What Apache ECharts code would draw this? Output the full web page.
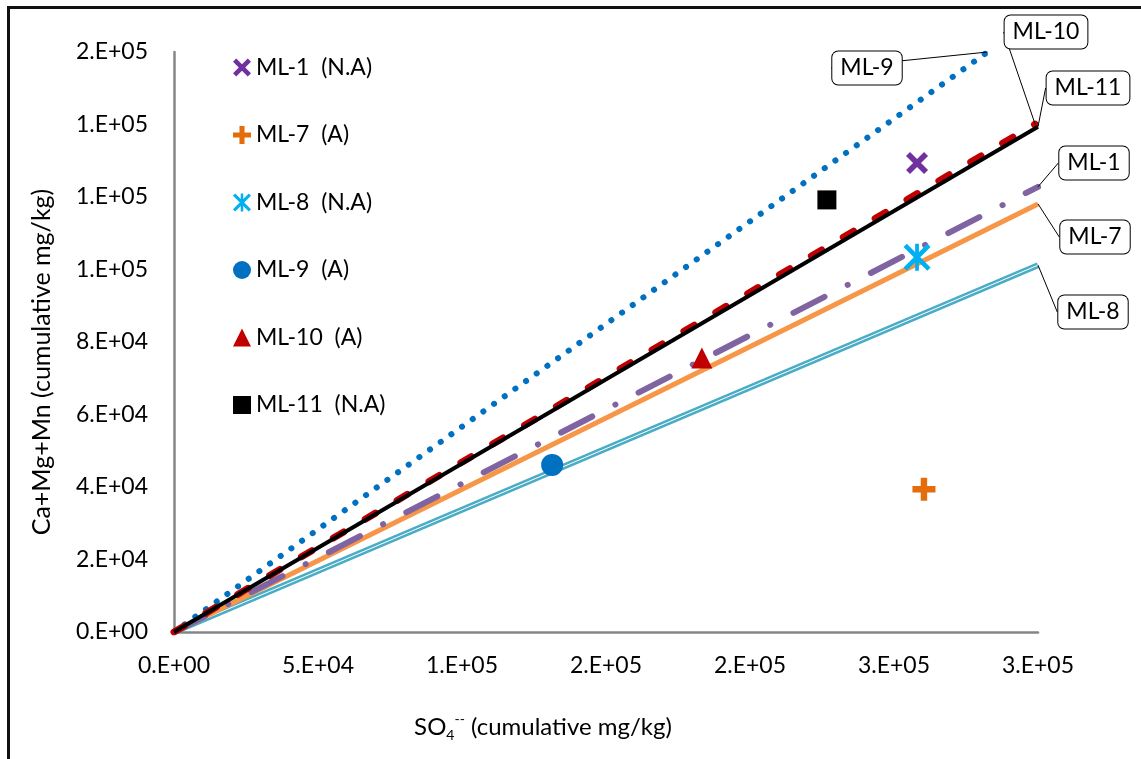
<!DOCTYPE html>
<html>
<head>
<meta charset="utf-8">
<title>Ca+Mg+Mn vs SO4</title>
<script src="https://cdn.jsdelivr.net/npm/echarts@6/dist/echarts.min.js"></script>
<style>
    html, body { margin: 0; padding: 0; background: #fff; overflow: hidden; }
    #frame {
        position: absolute; left: 7px; top: 6px; width: 1300px; height: 900px;
        border-left: 3px solid #111; border-top: 3px solid #111;
    }
    #chart { position: absolute; left: 0; top: 0; width: 1141px; height: 759px; }
</style>
</head>
<body>
<div id="frame"></div>
<div id="chart"></div>
<script>
    // tick labels as printed (Excel 0.E+00 format)
    const xTickLabels = ['0.E+00', '5.E+04', '1.E+05', '2.E+05', '2.E+05', '3.E+05', '3.E+05'];
    const yTickLabels = ['0.E+00', '2.E+04', '4.E+04', '6.E+04', '8.E+04', '1.E+05', '1.E+05', '1.E+05', '2.E+05'];

    // measured samples [SO4, Ca+Mg+Mn] (cumulative mg/kg)
    const ml1Point = [258000, 129400];
    const ml7Point = [260400, 39400];
    const ml8Point = [258000, 103400];
    const ml9Point = [131300, 46100];
    const ml10Point = [183300, 75600];
    const ml11Point = [226700, 119200];

    // reference lines from the origin
    const ml1Line = [[0, 0], [300000, 122800]];
    const ml7Line = [[0, 0], [300000, 118100]];
    const ml8Line = [[0, 0], [300000, 101200]];
    const ml9Line = [[0, 0], [282500, 160000]];
    const ml10Line = [[0, 0], [299000, 140100]];
    const ml11Line = [[0, 0], [300000, 139400]];

    const FONT = 'Lato';

    const crossPath = 'path://M0,1.8 L1.8,0 L5,3.2 L8.2,0 L10,1.8 L6.8,5 L10,8.2 L8.2,10 L5,6.8 L1.8,10 L0,8.2 L3.2,5 Z';
    const plusPath = 'path://M3.6,0 L6.4,0 L6.4,3.6 L10,3.6 L10,6.4 L6.4,6.4 L6.4,10 L3.6,10 L3.6,6.4 L0,6.4 L0,3.6 L3.6,3.6 Z';
    const starPath = 'path://M0,1.2 L1.2,0 L5,3.8 L8.8,0 L10,1.2 L6.2,5 L10,8.8 L8.8,10 L5,6.2 L1.2,10 L0,8.8 L3.8,5 Z M4.3,0 L5.7,0 L5.7,10 L4.3,10 Z';

    const boxLabel = {
        formatter: '{a}',
        fontFamily: FONT,
        fontSize: 23,
        color: '#000',
        backgroundColor: '#fff',
        borderColor: '#000',
        borderWidth: 1,
        borderRadius: 6,
        padding: [5, 8]
    };

    // line with a callout label on its end point
    function refLine(name, pts, lineStyle, labelX, labelY, z) {
        const last = pts.length - 1;
        return {
            name: name,
            type: 'line',
            z: z,
            symbol: 'circle',
            symbolSize: 0,
            showSymbol: true,
            lineStyle: lineStyle,
            label: Object.assign({ show: false }, boxLabel),
            labelLine: { show: true, lineStyle: { color: '#000', width: 1 } },
            labelLayout: { x: labelX, y: labelY, align: 'center', verticalAlign: 'middle' },
            data: pts.map((p, i) => i === last ? { value: p, label: { show: true } } : p),
            emphasis: { disabled: true },
            silent: true
        };
    }

    function sample(name, pt, symbol, size, color) {
        return {
            name: name,
            type: 'scatter',
            z: 5,
            symbol: symbol,
            symbolSize: size,
            itemStyle: { color: color, opacity: 1 },
            data: [pt],
            emphasis: { disabled: true }
        };
    }

    const legendNames = ['ML-1  (N.A)', 'ML-7  (A)', 'ML-8  (N.A)', 'ML-9  (A)', 'ML-10  (A)', 'ML-11  (N.A)'];

    const option = {
        animation: false,
        grid: { left: 174, right: 103, top: 52, bottom: 127 },
        legend: {
            orient: 'vertical',
            left: 228,
            top: 50,
            itemWidth: 18,
            itemHeight: 18,
            itemGap: 42.5,
            selectedMode: false,
            textStyle: { fontFamily: FONT, fontSize: 23, lineHeight: 25, color: '#000' },
            data: legendNames
        },
        xAxis: {
            type: 'value',
            min: 0,
            max: 300000,
            interval: 50000,
            name: '{a|SO}{sub|4}{sup|--}{a| (cumulative mg/kg)}',
            nameLocation: 'middle',
            nameGap: 80,
            nameTextStyle: {
                padding: [0, 126, 0, 0],
                rich: {
                    a: { fontFamily: FONT, fontSize: 24, color: '#000', lineHeight: 30 },
                    sub: { fontFamily: FONT, fontSize: 14, color: '#000', lineHeight: 14, verticalAlign: 'bottom' },
                    sup: { fontFamily: FONT, fontSize: 14, color: '#000', lineHeight: 14, verticalAlign: 'top' }
                }
            },
            axisLine: { lineStyle: { color: '#868686', width: 2.5 } },
            axisTick: { show: false },
            splitLine: { show: false },
            axisLabel: {
                fontFamily: FONT, fontSize: 23, color: '#000', margin: 22,
                formatter: v => xTickLabels[Math.round(v / 50000)]
            }
        },
        yAxis: {
            type: 'value',
            min: 0,
            max: 160000,
            interval: 20000,
            name: 'Ca+Mg+Mn (cumulative mg/kg)',
            nameLocation: 'middle',
            nameGap: 120,
            nameTextStyle: { fontFamily: FONT, fontSize: 25, color: '#000', padding: [0, 40, 0, 0] },
            axisLine: { show: true, lineStyle: { color: '#868686', width: 2.5 } },
            axisTick: { show: false },
            splitLine: { show: false },
            axisLabel: {
                fontFamily: FONT, fontSize: 23, color: '#000', margin: 26,
                formatter: v => yTickLabels[Math.round(v / 20000)]
            }
        },
        series: [
            refLine('ML-8', ml8Line, { color: '#4BACC6', width: 6 }, 1093, 312, 2),
            {
                name: 'ML-8 core', type: 'line', z: 2, symbol: 'none', silent: true,
                lineStyle: { color: '#fff', width: 1 }, data: ml8Line
            },
            refLine('ML-7', ml7Line, { color: '#F79646', width: 5 }, 1095, 237, 3),
            refLine('ML-1', ml1Line, { color: '#8064A2', width: 6, cap: 'round', type: [35, 26, 0.1, 26] }, 1094, 163, 3),
            refLine('ML-9', ml9Line, { color: '#0070C0', width: 6, cap: 'round', type: [0.1, 13] }, 867, 68, 3),
            refLine('ML-10', ml10Line, { color: '#C00000', width: 7, cap: 'round', type: [12, 25] }, 1046, 32, 3),
            refLine('ML-11', ml11Line, { color: '#000', width: 4 }, 1088, 88, 4),

            sample(legendNames[0], ml1Point, crossPath, 22, '#7030A0'),
            sample(legendNames[1], ml7Point, plusPath, 23, '#E46C0A'),
            sample(legendNames[2], ml8Point, starPath, 27, '#00B0F0'),
            sample(legendNames[3], ml9Point, 'circle', 22, '#0070C0'),
            sample(legendNames[4], ml10Point, 'triangle', 21, '#C00000'),
            sample(legendNames[5], ml11Point, 'rect', 19, '#000')
        ]
    };

    const myChart = echarts.init(document.getElementById('chart'));
    myChart.setOption(option);
</script>
</body>
</html>
